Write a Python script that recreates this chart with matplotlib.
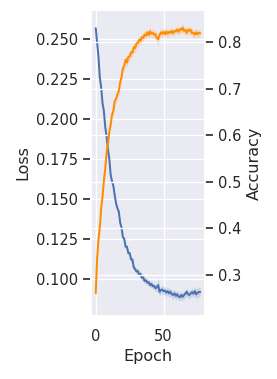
import matplotlib
matplotlib.use("Agg")
import matplotlib.pyplot as plt
import seaborn as sns
import numpy as np

# ---- data ----
epochs = list(range(78))
loss = [0.257, 0.248, 0.239, 0.226, 0.220, 0.210, 0.205, 0.195, 0.189, 0.181,
        0.175, 0.165, 0.161, 0.158, 0.152, 0.147, 0.144, 0.142, 0.135, 0.132,
        0.126, 0.125, 0.120, 0.120, 0.116, 0.116, 0.112, 0.112, 0.107, 0.106,
        0.1045, 0.1048, 0.1025, 0.103, 0.1005, 0.1008, 0.0985, 0.099, 0.0975, 0.0978,
        0.096, 0.0968, 0.0952, 0.0955, 0.094, 0.0946, 0.096, 0.0918, 0.0928, 0.0932,
        0.0922, 0.0925, 0.0912, 0.0922, 0.0908, 0.0918, 0.0902, 0.0898, 0.0908, 0.0892,
        0.0902, 0.0888, 0.0884, 0.0898, 0.0886, 0.0897, 0.0906, 0.0918, 0.0902, 0.0898,
        0.0908, 0.0916, 0.0906, 0.0922, 0.0902, 0.0912, 0.0916, 0.0917]
loss_err = [0.003, 0.0015, 0.001, 0.001, 0.001, 0.001, 0.001, 0.001, 0.001, 0.001,
            0.001, 0.001, 0.001, 0.001, 0.0012, 0.0012, 0.0012, 0.0015, 0.0015, 0.0015,
            0.0015, 0.0015, 0.0015, 0.0015, 0.0015, 0.0015, 0.0018, 0.0018, 0.0018, 0.0018,
            0.0018, 0.002, 0.002, 0.002, 0.002, 0.002, 0.002, 0.002, 0.002, 0.002,
            0.002, 0.002, 0.002, 0.002, 0.002, 0.0025, 0.005, 0.0025, 0.0025, 0.0025,
            0.0025, 0.0025, 0.0025, 0.0025, 0.0025, 0.0025, 0.0025, 0.0025, 0.0025, 0.0025,
            0.0025, 0.0025, 0.0025, 0.0025, 0.0025, 0.0025, 0.0025, 0.0025, 0.0025, 0.0025,
            0.0025, 0.0025, 0.0025, 0.003, 0.003, 0.003, 0.003, 0.003]
acc = [0.260, 0.335, 0.375, 0.402, 0.442, 0.468, 0.502, 0.528, 0.562, 0.582,
       0.607, 0.623, 0.644, 0.652, 0.674, 0.678, 0.688, 0.695, 0.714, 0.725,
       0.744, 0.749, 0.762, 0.756, 0.768, 0.769, 0.778, 0.777, 0.789, 0.787,
       0.797, 0.798, 0.805, 0.803, 0.811, 0.809, 0.816, 0.814, 0.821, 0.815,
       0.823, 0.818, 0.820, 0.816, 0.817, 0.809, 0.806, 0.815, 0.821, 0.818,
       0.822, 0.817, 0.823, 0.818, 0.822, 0.820, 0.824, 0.819, 0.824, 0.823,
       0.827, 0.822, 0.828, 0.826, 0.831, 0.824, 0.826, 0.820, 0.827, 0.824,
       0.826, 0.819, 0.820, 0.816, 0.821, 0.817, 0.820, 0.819]
acc_err = [0.02, 0.01, 0.008, 0.006, 0.006, 0.006, 0.006, 0.006, 0.006, 0.006,
           0.006, 0.006, 0.006, 0.008, 0.008, 0.008, 0.009, 0.009, 0.010, 0.010,
           0.010, 0.010, 0.010, 0.010, 0.010, 0.010, 0.010, 0.010, 0.010, 0.010,
           0.009, 0.009, 0.009, 0.009, 0.009, 0.009, 0.009, 0.009, 0.009, 0.009,
           0.009, 0.009, 0.009, 0.009, 0.009, 0.010, 0.012, 0.009, 0.009, 0.009,
           0.008, 0.008, 0.008, 0.008, 0.008, 0.008, 0.008, 0.008, 0.008, 0.008,
           0.008, 0.008, 0.008, 0.008, 0.009, 0.008, 0.008, 0.008, 0.008, 0.008,
           0.009, 0.009, 0.009, 0.009, 0.009, 0.009, 0.009, 0.009]
loss_ticks = [0.100, 0.125, 0.150, 0.175, 0.200, 0.225, 0.250]
acc_ticks = [0.3, 0.4, 0.5, 0.6, 0.7, 0.8]
epoch_ticks = [0, 50]

# ---- style ----
sns.set_theme(style="darkgrid")
plt.rcParams["font.family"] = ["DejaVu Sans"]

DPI = 96
fig = plt.figure(figsize=(277 / DPI, 379 / DPI), dpi=DPI)
ax = fig.add_axes([91 / 277, 1 - 316 / 379, (205 - 91) / 277, (316 - 10) / 379])
ax2 = ax.twinx()

blue = "#4c72b0"
orange = "darkorange"

x = np.array(epochs)
l = np.array(loss)
le = np.array(loss_err)
a = np.array(acc)
ae = np.array(acc_err)

ax.fill_between(x, l - le, l + le, color=blue, alpha=0.2, linewidth=0)
ax.plot(x, l, color=blue, linewidth=1.5)
ax2.fill_between(x, a - ae, a + ae, color=orange, alpha=0.2, linewidth=0)
ax2.plot(x, a, color=orange, linewidth=1.5)

ax.set_xlim(-3.5, 80.5)
ax.set_ylim(0.0766, 0.2684)
ax2.set_ylim(0.211, 0.869)

ax.set_xticks(epoch_ticks)
ax.set_yticks(loss_ticks)
ax.set_yticklabels([f"{v:.3f}" for v in loss_ticks])
ax2.set_yticks(acc_ticks)
ax2.set_yticklabels([f"{v:.1f}" for v in acc_ticks])

ax.tick_params(axis="y", left=True, length=6, width=1.25, color=".15",
               labelsize=11, pad=3.5)
ax.tick_params(axis="x", bottom=True, length=6, width=1.25, color="white",
               labelsize=11, pad=3.5)
ax2.tick_params(axis="y", right=True, length=6, width=1.25, color=".15",
                labelsize=11, pad=3.5)

ax.set_xlabel("Epoch", fontsize=12)
ax.set_ylabel("Loss", fontsize=12)
ax2.set_ylabel("Accuracy", fontsize=12)

fig.savefig("out.png", dpi=DPI)
